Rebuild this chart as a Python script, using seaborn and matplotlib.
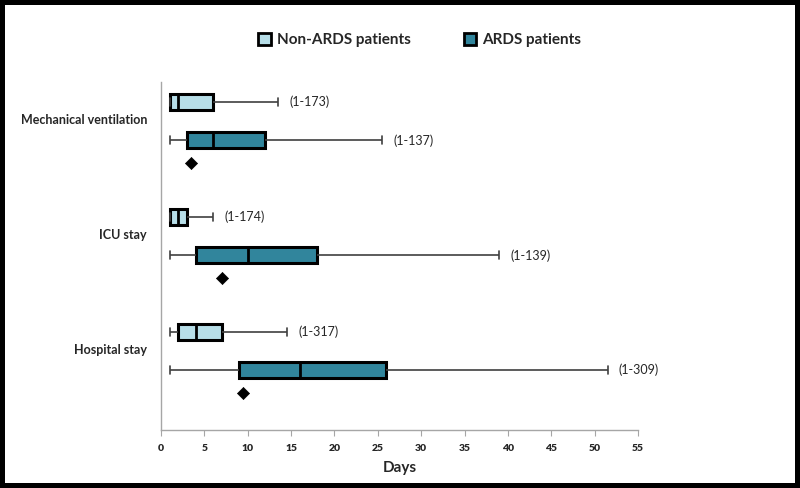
import pandas as pd
import numpy as np
import matplotlib.pyplot as plt
import seaborn as sns
from matplotlib.patches import Patch


# Five-number summaries (days)
outcomes = ['Mechanical ventilation', 'ICU stay', 'Hospital stay']
groups = ['Non-ARDS patients', 'ARDS patients']

non_ards_min = [1, 1, 1]
non_ards_q1 = [1, 1, 2]
non_ards_med = [2, 2, 4]
non_ards_q3 = [6, 3, 7]
non_ards_max = [13.5, 6, 14.5]

ards_min = [1, 1, 1]
ards_q1 = [3, 4, 9]
ards_med = [6, 10, 16]
ards_q3 = [12, 18, 26]
ards_max = [25.5, 39, 51.5]

# diamond markers under the ARDS boxes
ards_marker = [3.5, 7, 9.5]

non_ards_range = ['(1-173)', '(1-174)', '(1-317)']
ards_range = ['(1-137)', '(1-139)', '(1-309)']

colors = {'Non-ARDS patients': '#B7DEE8', 'ARDS patients': '#31859C'}

# Long table: each box is built from its five numbers, whiskers at min/max
rows = []
for i, name in enumerate(outcomes):
    non = [non_ards_min[i], non_ards_q1[i], non_ards_med[i], non_ards_q3[i], non_ards_max[i]]
    ards = [ards_min[i], ards_q1[i], ards_med[i], ards_q3[i], ards_max[i]]
    for v in non:
        rows.append({'outcome': name, 'group': groups[0], 'pos': 3 * i, 'days': v})
    for v in ards:
        rows.append({'outcome': name, 'group': groups[1], 'pos': 3 * i + 1, 'days': v})
df = pd.DataFrame(rows)

sns.set_style('ticks')
plt.rcParams['font.family'] = ['Lato', 'DejaVu Sans']

fig = plt.figure(figsize=(8, 4.88), dpi=100)
ax = fig.add_axes([161 / 800, 1 - 430 / 488, (638 - 161) / 800, (430 - 82) / 488])

sns.boxplot(
    data=df, x='days', y='pos', hue='group', hue_order=groups,
    palette=colors, saturation=1, orient='h', native_scale=True, whis=(0, 100),
    width=0.42, linewidth=2.2, linecolor='black', showfliers=False,
    whiskerprops=dict(color='#404040', linewidth=1.2),
    capprops=dict(color='#404040', linewidth=1.2),
    medianprops=dict(color='black', linewidth=2),
    legend=False, ax=ax
)

# mean markers
sns.scatterplot(
    x=ards_marker, y=[3 * i + 1.6 for i in range(len(outcomes))],
    marker='D', color='black', s=38, edgecolor='black', legend=False, ax=ax
)

# range annotations
for i in range(len(outcomes)):
    ax.text(non_ards_max[i] + 1.3, 3 * i, non_ards_range[i], va='center', ha='left', fontsize=9)
    ax.text(ards_max[i] + 1.3, 3 * i + 1, ards_range[i], va='center', ha='left', fontsize=9)

ax.set_xlim(0, 55)
ax.set_ylim(8.56, -0.52)
ax.set_xticks(range(0, 56, 5))
ax.set_xticklabels([str(t) for t in range(0, 56, 5)], fontweight='heavy', fontsize=7.5)
ax.set_yticks([3 * i + 0.45 for i in range(len(outcomes))])
ax.set_yticklabels(outcomes, fontweight='bold', fontsize=9)
ax.tick_params(axis='y', length=0, pad=10)
ax.tick_params(axis='x', length=4, color='#A6A6A6', pad=6)
ax.set_xlabel('Days', fontweight='bold', fontsize=11, labelpad=6)
ax.set_ylabel('')

sns.despine(ax=ax)
for s in ['left', 'bottom']:
    ax.spines[s].set_color('#A6A6A6')
    ax.spines[s].set_linewidth(1)

handles = [Patch(facecolor=colors[g], edgecolor='black', linewidth=2) for g in groups]
fig.legend(
    handles, groups, loc='center', bbox_to_anchor=(420 / 800, 1 - 40 / 488),
    ncol=2, frameon=False, handlelength=0.8, handleheight=0.8,
    columnspacing=3.5, handletextpad=0.4, prop={'weight': 'bold', 'size': 11}
)

fig.patch.set_edgecolor('black')
fig.patch.set_linewidth(6)

plt.savefig('out.png', dpi=100)
